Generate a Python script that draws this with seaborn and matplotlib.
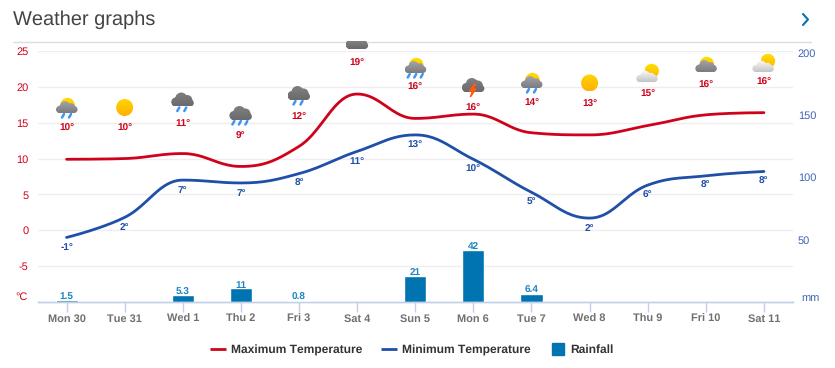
"""Weather graphs: 14 day temperature lines, rainfall bars and forecast icons."""

import matplotlib
matplotlib.use("Agg")

import matplotlib.pyplot as plt
import numpy as np
import pandas as pd
import seaborn as sns
from matplotlib.colors import LinearSegmentedColormap
from matplotlib.lines import Line2D
from matplotlib.patches import PathPatch
from matplotlib.path import Path

# chart values
days = ["Mon 30", "Tue 31", "Wed 1", "Thu 2", "Fri 3", "Sat 4", "Sun 5",
        "Mon 6", "Tue 7", "Wed 8", "Thu 9", "Fri 10", "Sat 11"]
max_temp = [9.9, 10.0, 10.7, 8.9, 11.7, 19.0, 15.6, 16.2, 13.6, 13.3, 14.6, 16.1, 16.4]
min_temp = [-1.0, 1.8, 7.0, 6.6, 7.9, 11.0, 13.3, 9.9, 5.3, 1.7, 6.3, 7.6, 8.2]
max_labels = [10, 10, 11, 9, 12, 19, 16, 16, 14, 13, 15, 16, 16]
min_labels = [-1, 2, 7, 7, 8, 11, 13, 10, 5, 2, 6, 8, 8]
rain = [1.5, 0, 5.3, 11, 0.8, 0, 21, 42, 6.4, 0, 0, 0, 0]
temp_ticks = [-5, 0, 5, 10, 15, 20, 25]
rain_ticks = [50, 100, 150, 200]
icons = ["sun_rain", "sun", "rain", "rain3", "rain", "cloud", "sun_rain3",
         "storm", "sun_rain", "sun", "sun_white", "sun_grey", "sun_white"]

# layout in picture pixels
W, H = 835, 368
AX_L, AX_R, AX_T, AX_B = 37.5, 793, 51, 302
ICON_Y = [107, 107.5, 100.5, 114, 94, 43, 67, 86, 82, 83, 76, 66, 66]
MAX_LABEL_Y = [128.5, 128.5, 123.5, 136.5, 116.5, 63.5, 87.5, 108.5, 102.5, 104.5, 94.5, 85.5, 82.5]

RED = "#d0021b"
BLUE = "#1f4fa8"
AXIS_BLUE = "#3f63b5"
BAR = "#0073b1"
BAR_TEXT = "#1f86c1"
GRID = "#eeeeee"
BASE = "#c0d0e8"
FONT = "Liberation Sans"


def spline(y, smoothing=1.5, per_gap=24):
    """Sample the rounded curve through the daily values, for drawing only."""
    y = np.asarray(y, dtype=float)
    n = len(y)
    left = y.copy()
    right = y.copy()
    dist = 1 / (smoothing + 1)
    for i in range(1, n - 1):
        lc = (smoothing * y[i] + y[i - 1]) * dist
        rc = (smoothing * y[i] + y[i + 1]) * dist
        shift = (rc - lc) * 0.5 + y[i] - rc
        lc, rc = lc + shift, rc + shift
        # keep control points inside the neighbours so peaks stay on the values
        lo, hi = min(y[i - 1], y[i]), max(y[i - 1], y[i])
        if lc > hi or lc < lo:
            lc = hi if lc > hi else lo
            rc = 2 * y[i] - lc
        lo, hi = min(y[i + 1], y[i]), max(y[i + 1], y[i])
        if rc > hi or rc < lo:
            rc = hi if rc > hi else lo
            lc = 2 * y[i] - rc
        left[i], right[i] = lc, rc
    xs, ys = [], []
    t = np.linspace(0, 1, per_gap, endpoint=False)
    for i in range(n - 1):
        x0, x1 = (i, i + 1)
        cx0 = x0 + (0.4 if i > 0 else 0)
        cx1 = x1 - (0.4 if i < n - 2 else 0)
        a, b = (1 - t) ** 3, 3 * (1 - t) ** 2 * t
        c, d = 3 * (1 - t) * t ** 2, t ** 3
        xs.append(a * x0 + b * cx0 + c * cx1 + d * x1)
        ys.append(a * y[i] + b * right[i] + c * left[i + 1] + d * y[i + 1])
    return np.append(np.concatenate(xs), n - 1), np.append(np.concatenate(ys), y[-1])


def circle(cx, cy, r):
    return Path(Path.unit_circle().vertices * r + [cx, cy], Path.unit_circle().codes)


def gradient(ov, path, top, bottom, clip_top=41.5):
    """Fill a pixel-space path with a vertical gradient."""
    x0, y0, x1, y1 = path.get_extents().extents
    cmap = LinearSegmentedColormap.from_list("g", [top, bottom])
    y_start = max(y0, clip_top)
    im = ov.imshow(np.linspace(0, 1, 32).reshape(-1, 1), cmap=cmap, aspect="auto",
                   extent=(x0, x1, y1, y_start), interpolation="bilinear", zorder=5)
    im.set_clip_path(PathPatch(path, transform=ov.transData))


def draw_cloud(ov, cx, cy, top, bottom, low=1.0):
    """Cloud resting on cy + 6; low < 1 gives the flatter cloud used with a sun."""
    parts = [circle(cx - 7 * low, cy + 6 - 4.5 * low, 4.5 * low),
             circle(cx - 1.5, cy + 6 - 8 * low, 6 * low),
             circle(cx + 4.5, cy + 6 - 6.5 * low, 5 * low),
             circle(cx + 7.5, cy + 6 - 3.5, 3.5),
             circle(cx - 7, cy + 6 - 3.5, 3.5),
             Path([(cx - 7, cy + 1), (cx + 7.5, cy + 1), (cx + 7.5, cy + 6),
                   (cx - 7, cy + 6), (cx - 7, cy + 1)])]
    gradient(ov, Path.make_compound_path(*parts), top, bottom)


def draw_drops(ov, cx, cy, count):
    offsets = [-6.5, 0, 6.5] if count == 3 else [-3.5, 3.5]
    for off in offsets:
        ov.plot([cx + off + 1, cx + off - 1], [cy + 7, cy + 10.5], color="#3d97f2",
                lw=1.8, solid_capstyle="round", zorder=6)


def draw_icon(ov, kind, cx, cy):
    dark = ("#808082", "#6a6a6c")
    grey = ("#a4a4a8", "#7c7c80")
    white = ("#fbfbfb", "#c4c4c4")
    if kind == "sun":
        gradient(ov, circle(cx, cy, 8.5), "#ffd500", "#ffb000")
    elif kind == "sun_white":
        gradient(ov, circle(cx + 4, cy - 5, 7.2), "#ffe000", "#ffb800")
        draw_cloud(ov, cx - 1, cy, *white, low=0.8)
    elif kind.startswith("sun_"):
        gradient(ov, circle(cx + 1, cy - 2, 7.2), "#ffe000", "#ffb800")
        draw_cloud(ov, cx, cy, *grey, low=0.85)
        if "rain" in kind:
            draw_drops(ov, cx, cy, 3 if kind.endswith("3") else 2)
    else:
        draw_cloud(ov, cx, cy, *dark)
        if kind == "rain":
            draw_drops(ov, cx - 1, cy, 2)
        elif kind == "rain3":
            draw_drops(ov, cx - 1, cy, 3)
        elif kind == "storm":
            ov.fill([cx + 1, cx - 4, cx - 1, cx - 3, cx + 2.5, cx - 0.5, cx + 2.5],
                    [cy - 2, cy + 5, cy + 5, cy + 11, cy + 3, cy + 3, cy - 2],
                    color="#ff5a14", zorder=6)


sns.set_theme(style="white")
plt.rcParams["font.family"] = [FONT, "DejaVu Sans"]
plt.rcParams["axes.unicode_minus"] = False
plt.rcParams["text.hinting"] = "none"
plt.rcParams["text.hinting_factor"] = 1

fig = plt.figure(figsize=(W / 100, H / 100), dpi=100, facecolor="white")
ax = fig.add_axes([AX_L / W, 1 - AX_B / H, (AX_R - AX_L) / W, (AX_B - AX_T) / H])
ax_rain = ax.twinx()

df = pd.DataFrame({"day": days, "rain": rain})
sns.barplot(data=df, x="day", y="rain", ax=ax_rain, color=BAR, saturation=1, width=0.38)

for values, color in ((max_temp, RED), (min_temp, BLUE)):
    xs, ys = spline(values)
    sns.lineplot(x=xs, y=ys, ax=ax, color=color, lw=2, sort=False, errorbar=None)

ax.set_xlim(-0.5, 12.5)
ax.set_ylim(-10, 25)
ax_rain.set_ylim(0, 201.4)
ax.set_xlabel("")
ax.set_ylabel("")
ax_rain.set_xlabel("")
ax_rain.set_ylabel("")

ax.set_yticks(temp_ticks)
ax.tick_params(axis="y", length=0, pad=6.5, labelsize=8.2, labelcolor=RED)
ax.grid(axis="y", color=GRID, lw=1)
ax.set_axisbelow(True)
ax_rain.set_yticks(rain_ticks)
ax_rain.tick_params(axis="y", length=0, pad=3.5, labelsize=8.2, labelcolor=AXIS_BLUE)
ax_rain.xaxis.set_visible(False)
ax.xaxis.set_visible(True)
ax.set_xticks(range(len(days)))
ax.set_xticklabels(days)
ax.tick_params(axis="x", bottom=True, labelbottom=True, length=7, width=1, color=BASE,
               pad=1.5, labelsize=7.7, labelcolor="#707070")
for label in ax.get_xticklabels():
    label.set_fontweight("bold")
for a in (ax, ax_rain):
    for side in ("top", "left", "right"):
        a.spines[side].set_visible(False)
    a.spines["bottom"].set_color(BASE)
    a.spines["bottom"].set_linewidth(1)

# value labels
for i, (value, label) in enumerate(zip(min_temp, min_labels)):
    ax.annotate(f"{label}°", (i, value), xytext=(0, -7.2), textcoords="offset points",
                ha="center", va="center", fontsize=6.9, fontweight="bold", color=BLUE)
for i, value in enumerate(rain):
    if value > 0:
        ax_rain.annotate(f"{value:g}", (i, value), xytext=(0, 2.4), textcoords="offset points",
                         ha="center", va="center", fontsize=7.3, fontweight="bold",
                         color=BAR_TEXT)

# pixel-space layer for title, rule, icons and their labels
ov = fig.add_axes([0, 0, 1, 1], facecolor="none", zorder=10)
ov.axis("off")
ov.text(13, 20, "Weather graphs", fontsize=14.3, color="#444444", va="center", ha="left")
ov.plot([13, 811], [41.5, 41.5], color="#dddddd", lw=1)
ov.plot([803, 808, 803], [14, 19.5, 25], color=BAR, lw=1.5)
ov.text(28, 297.5, "°C", fontsize=8.2, color=RED, ha="right", va="center")
ov.text(801, 298, "mm", fontsize=8.2, color=AXIS_BLUE, ha="left", va="center")

step = (AX_R - AX_L) / len(days)
for i, kind in enumerate(icons):
    cx = AX_L + step * (i + 0.5)
    draw_icon(ov, kind, cx, ICON_Y[i])
    ov.text(cx, MAX_LABEL_Y[i], f"{max_labels[i]}°", fontsize=6.9, fontweight="bold",
            color=RED, ha="center", va="center")
ov.set_xlim(0, W)
ov.set_ylim(H, 0)

handles = [Line2D([], [], color=RED, lw=2, solid_capstyle="butt"),
           Line2D([], [], color=BLUE, lw=2, solid_capstyle="butt"),
           Line2D([], [], color=BAR, marker="s", ms=8.8, ls="none")]
fig.legend(handles, ["Maximum Temperature", "Minimum Temperature", "Rainfall"],
           loc="center", bbox_to_anchor=(412 / W, 1 - 350 / H), ncol=3, frameon=False,
           handlelength=1.3, handletextpad=0.4, columnspacing=1.6,
           prop={"family": FONT, "weight": "bold", "size": 8.7}, labelcolor="#333333")

fig.savefig("out.png", dpi=100)
